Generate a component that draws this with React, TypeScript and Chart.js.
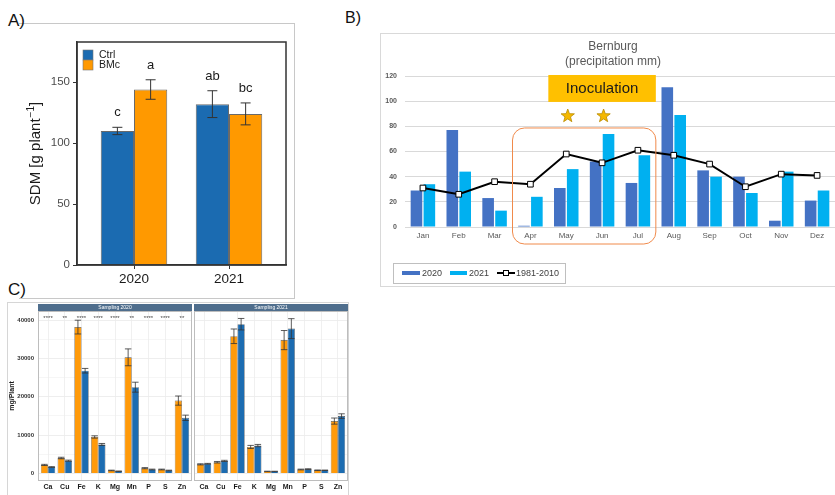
import React, { useEffect, useRef } from 'react';
import { Chart, registerables } from 'chart.js';
Chart.register(...registerables);

const FONT = "'Liberation Sans', Arial, sans-serif";
Chart.defaults.font.family = FONT;

// ---------- Panel A: shoot dry matter ----------
const sdmYears = ['2020', '2021'];
const sdmCtrl = [110, 132];
const sdmCtrlErr = [3, 11];
const sdmBMc = [144, 124];
const sdmBMcErr = [8, 9];
const sdmCtrlLetters = ['c', 'ab'];
const sdmBMcLetters = ['a', 'bc'];
const sdmTicks = [0, 50, 100, 150];

// ---------- Panel B: precipitation ----------
const months = ['Jan', 'Feb', 'Mar', 'Apr', 'May', 'Jun', 'Jul', 'Aug', 'Sep', 'Oct', 'Nov', 'Dez'];
const precip2020 = [29, 77, 23, 1, 31, 52, 35, 111, 45, 40, 5, 21];
const precip2021 = [34, 44, 13, 24, 46, 74, 57, 89, 40, 27, 44, 29];
const precipNormal = [31, 26, 36, 34, 58, 51, 61, 57, 50, 32, 42, 41];
const precipTicks = [0, 20, 40, 60, 80, 100, 120];
const inoculationMonths = ['May', 'Jun'];
const windowMonths = ['Apr', 'Jul'];

// ---------- Panel C: nutrient uptake ----------
const elements = ['Ca', 'Cu', 'Fe', 'K', 'Mg', 'Mn', 'P', 'S', 'Zn'];
const bmc2020 = [2200, 4000, 38200, 9500, 750, 30300, 1350, 1000, 19000];
const bmc2020Err = [150, 200, 1800, 300, 80, 2200, 150, 100, 1200];
const ctrl2020 = [1650, 3300, 26800, 7550, 550, 22500, 1000, 750, 14500];
const ctrl2020Err = [100, 150, 600, 250, 50, 1300, 100, 80, 700];
const sig2020 = ['****', '**', '****', '****', '****', '**', '****', '****', '**'];
const bmc2021 = [2350, 2900, 35800, 6900, 500, 34800, 1000, 800, 13650];
const bmc2021Err = [150, 200, 1900, 400, 60, 2500, 100, 80, 800];
const ctrl2021 = [2500, 3250, 38950, 7250, 500, 37800, 1100, 800, 14950];
const ctrl2021Err = [100, 150, 1500, 300, 50, 2600, 100, 60, 600];
const sig2021 = ['', '', '', '', '', '', '', '', ''];
const mgTicks = [0, 5000, 10000, 15000, 20000, 25000, 30000, 35000, 40000];

// ---------- helpers ----------
function makeErrorBars(capRatio: number, color: string, width: number) {
  return {
    id: 'errorBars',
    afterDatasetsDraw(chart: any) {
      const { ctx } = chart;
      const y = chart.scales.y;
      chart.data.datasets.forEach((ds: any, di: number) => {
        if (!ds.errors) return;
        const meta = chart.getDatasetMeta(di);
        meta.data.forEach((el: any, i: number) => {
          const v = ds.data[i].y;
          const e = ds.errors[i];
          const top = y.getPixelForValue(v + e);
          const bot = y.getPixelForValue(v - e);
          const half = el.width * capRatio;
          ctx.save();
          ctx.strokeStyle = color;
          ctx.lineWidth = width;
          ctx.beginPath();
          ctx.moveTo(el.x, top);
          ctx.lineTo(el.x, bot);
          ctx.moveTo(el.x - half, top);
          ctx.lineTo(el.x + half, top);
          ctx.moveTo(el.x - half, bot);
          ctx.lineTo(el.x + half, bot);
          ctx.stroke();
          ctx.restore();
        });
      });
    },
  };
}

function roundRectPath(ctx: any, x: number, y: number, w: number, h: number, r: number) {
  ctx.beginPath();
  ctx.moveTo(x + r, y);
  ctx.arcTo(x + w, y, x + w, y + h, r);
  ctx.arcTo(x + w, y + h, x, y + h, r);
  ctx.arcTo(x, y + h, x, y, r);
  ctx.arcTo(x, y, x + w, y, r);
  ctx.closePath();
}

function drawStar(ctx: any, cx: number, cy: number, R: number, r: number) {
  ctx.beginPath();
  for (let k = 0; k < 10; k++) {
    const rad = k % 2 === 0 ? R : r;
    const a = -Math.PI / 2 + (k * Math.PI) / 5;
    const px = cx + rad * Math.cos(a);
    const py = cy + rad * Math.sin(a);
    if (k === 0) ctx.moveTo(px, py);
    else ctx.lineTo(px, py);
  }
  ctx.closePath();
  ctx.fillStyle = '#F5B800';
  ctx.fill();
  ctx.strokeStyle = '#B88A00';
  ctx.lineWidth = 0.8;
  ctx.stroke();
}

// ---------- Panel A config ----------
function configA(): any {
  const decorA = {
    id: 'decorA',
    afterDraw(chart: any) {
      const { ctx, chartArea: ca } = chart;
      const y = chart.scales.y;
      ctx.save();
      // frame
      ctx.strokeStyle = '#333';
      ctx.lineWidth = 1.5;
      ctx.strokeRect(ca.left, ca.top, ca.right - ca.left, ca.bottom - ca.top);
      // letters
      ctx.fillStyle = '#1a1a1a';
      ctx.font = `13px ${FONT}`;
      ctx.textAlign = 'center';
      ctx.textBaseline = 'alphabetic';
      chart.data.datasets.forEach((ds: any, di: number) => {
        const meta = chart.getDatasetMeta(di);
        meta.data.forEach((el: any, i: number) => {
          const top = y.getPixelForValue(ds.data[i].y + ds.errors[i]);
          ctx.fillText(ds.letters[i], el.x, top - 11);
        });
      });
      // legend
      const items = [
        { c: '#1B6BB1', t: 'Ctrl' },
        { c: '#FF9900', t: 'BMc' },
      ];
      items.forEach((it, k) => {
        const sy = ca.top + 8 + k * 10;
        ctx.fillStyle = it.c;
        ctx.fillRect(ca.left + 6, sy, 10, 10);
        ctx.strokeStyle = '#777';
        ctx.lineWidth = 0.6;
        ctx.strokeRect(ca.left + 6, sy, 10, 10);
        ctx.fillStyle = '#1a1a1a';
        ctx.font = `10.5px ${FONT}`;
        ctx.textAlign = 'left';
        ctx.textBaseline = 'middle';
        ctx.fillText(it.t, ca.left + 22, sy + 5);
      });
      // y title
      ctx.translate(17, (ca.top + ca.bottom) / 2);
      ctx.rotate(-Math.PI / 2);
      ctx.fillStyle = '#1a1a1a';
      ctx.textBaseline = 'middle';
      ctx.textAlign = 'left';
      const main1 = 'SDM [g plant';
      const sup = '\u22121';
      const main2 = ']';
      ctx.font = `15px ${FONT}`;
      const w1 = ctx.measureText(main1).width;
      const w3 = ctx.measureText(main2).width;
      ctx.font = `10px ${FONT}`;
      const w2 = ctx.measureText(sup).width;
      const start = -(w1 + w2 + w3 + 1) / 2;
      ctx.font = `15px ${FONT}`;
      ctx.fillText(main1, start, 0);
      ctx.font = `10px ${FONT}`;
      ctx.fillText(sup, start + w1 + 1, -5);
      ctx.font = `15px ${FONT}`;
      ctx.fillText(main2, start + w1 + w2 + 1, 0);
      ctx.restore();
    },
  };
  return {
    type: 'bar',
    data: {
      datasets: [
        {
          label: 'Ctrl',
          data: sdmCtrl.map((v, i) => ({ x: i + 1, y: v })),
          backgroundColor: '#1B6BB1',
          borderColor: '#6a6a6a',
          borderWidth: 1,
          borderSkipped: 'bottom',
          errors: sdmCtrlErr,
          letters: sdmCtrlLetters,
        },
        {
          label: 'BMc',
          data: sdmBMc.map((v, i) => ({ x: i + 1, y: v })),
          backgroundColor: '#FF9900',
          borderColor: '#6a6a6a',
          borderWidth: 1,
          borderSkipped: 'bottom',
          errors: sdmBMcErr,
          letters: sdmBMcLetters,
        },
      ],
    },
    options: {
      animation: false,
      responsive: false,
      layout: { padding: { left: 0, top: 19, right: 8, bottom: 0 } },
      datasets: { bar: { categoryPercentage: 0.7, barPercentage: 1 } },
      plugins: { legend: { display: false }, tooltip: { enabled: false } },
      scales: {
        x: {
          type: 'linear',
          min: 0.4,
          max: 2.6,
          offset: false,
          afterBuildTicks: (s: any) => {
            s.ticks = sdmYears.map((_, i) => ({ value: i + 1 }));
          },
          afterFit: (s: any) => {
            s.height = 32;
          },
          ticks: {
            autoSkip: false,
            maxRotation: 0,
            padding: 2,
            color: '#1a1a1a',
            font: { family: FONT, size: 13.5 },
            callback: (v: any) => sdmYears[Math.round(v) - 1] ?? '',
          },
          grid: { offset: false, drawOnChartArea: false, drawTicks: true, tickLength: 4, color: '#333' },
          border: { display: true, color: '#333', width: 1.5 },
        },
        y: {
          min: 0,
          max: 183,
          afterBuildTicks: (s: any) => {
            s.ticks = sdmTicks.map((v) => ({ value: v }));
          },
          afterFit: (s: any) => {
            s.width = 58;
          },
          ticks: { padding: 3, color: '#4d4d4d', font: { family: FONT, size: 11.5 } },
          grid: { drawOnChartArea: false, drawTicks: true, tickLength: 4, color: '#333' },
          border: { display: true, color: '#333', width: 1.5 },
        },
      },
    },
    plugins: [makeErrorBars(0.15, '#333', 1), decorA],
  };
}

// ---------- Panel B config ----------
function configB(): any {
  const decorB = {
    id: 'decorB',
    afterDraw(chart: any) {
      const { ctx } = chart;
      const x = chart.scales.x;
      const y = chart.scales.y;
      const half = (x.getPixelForValue(1) - x.getPixelForValue(0)) / 2;
      ctx.save();
      // title
      ctx.fillStyle = '#595959';
      ctx.font = `12px ${FONT}`;
      ctx.textAlign = 'center';
      ctx.textBaseline = 'middle';
      ctx.fillText('Bernburg', 233, 14);
      ctx.fillText('(precipitation mm)', 233, 29);
      // orange window
      const i0 = months.indexOf(windowMonths[0]);
      const i1 = months.indexOf(windowMonths[1]);
      const l = x.getPixelForValue(i0) - half;
      const r = x.getPixelForValue(i1) + half;
      const t = y.getPixelForValue(78.7);
      const b = y.bottom + 17;
      roundRectPath(ctx, l, t, r - l, b - t, 12);
      ctx.strokeStyle = '#F08A4B';
      ctx.lineWidth = 1;
      ctx.stroke();
      // inoculation banner
      const bl = x.getPixelForValue(months.indexOf('May')) - half;
      const bt = y.getPixelForValue(120.8);
      const bb = y.getPixelForValue(99.4);
      ctx.fillStyle = '#FFC000';
      ctx.fillRect(bl, bt, r - bl, bb - bt);
      ctx.fillStyle = '#1a1a1a';
      ctx.font = `15px ${FONT}`;
      ctx.fillText('Inoculation', (bl + r) / 2, (bt + bb) / 2 + 0.5);
      // stars
      inoculationMonths.forEach((m) => {
        drawStar(ctx, x.getPixelForValue(months.indexOf(m)) + 1.5, y.getPixelForValue(88.2), 7, 2.9);
      });
      // legend
      ctx.strokeStyle = '#bfbfbf';
      ctx.lineWidth = 1;
      ctx.strokeRect(13.5, 230.5, 172, 20);
      ctx.fillStyle = '#4472C4';
      ctx.fillRect(22, 238, 18, 4);
      ctx.fillStyle = '#00B0F0';
      ctx.fillRect(70, 238, 17, 4);
      ctx.strokeStyle = '#000';
      ctx.lineWidth = 2;
      ctx.beginPath();
      ctx.moveTo(117, 240);
      ctx.lineTo(135, 240);
      ctx.stroke();
      ctx.fillStyle = '#fff';
      ctx.fillRect(123.5, 237.5, 5, 5);
      ctx.lineWidth = 1;
      ctx.strokeRect(123.5, 237.5, 5, 5);
      ctx.fillStyle = '#404040';
      ctx.font = `9px ${FONT}`;
      ctx.textAlign = 'left';
      ctx.textBaseline = 'middle';
      ctx.fillText('2020', 42, 240.5);
      ctx.fillText('2021', 89, 240.5);
      ctx.fillText('1981-2010', 136, 240.5);
      ctx.restore();
    },
  };
  return {
    type: 'bar',
    data: {
      labels: months,
      datasets: [
        {
          type: 'line',
          label: '1981-2010',
          data: precipNormal,
          borderColor: '#000',
          borderWidth: 2,
          pointStyle: 'rect',
          pointRadius: 4,
          pointBackgroundColor: '#fff',
          pointBorderColor: '#000',
          pointBorderWidth: 1,
          tension: 0,
          order: 0,
        },
        { label: '2020', data: precip2020, backgroundColor: '#4472C4', order: 1 },
        { label: '2021', data: precip2021, backgroundColor: '#00B0F0', order: 1 },
      ],
    },
    options: {
      animation: false,
      responsive: false,
      layout: { padding: { left: 0, top: 43, right: 3, bottom: 0 } },
      datasets: { bar: { categoryPercentage: 0.72, barPercentage: 0.9 } },
      plugins: { legend: { display: false }, tooltip: { enabled: false } },
      scales: {
        x: {
          afterFit: (s: any) => {
            s.height = 60;
          },
          grid: { display: false, drawTicks: false },
          border: { display: false },
          ticks: { padding: 4, color: '#595959', font: { family: FONT, size: 8 }, autoSkip: false, maxRotation: 0 },
        },
        y: {
          min: 0,
          max: 120,
          afterBuildTicks: (s: any) => {
            s.ticks = precipTicks.map((v) => ({ value: v }));
          },
          afterFit: (s: any) => {
            s.width = 25;
          },
          grid: { color: '#d9d9d9', drawTicks: false, lineWidth: 1 },
          border: { display: false },
          ticks: { padding: 8, color: '#595959', font: { family: FONT, size: 7, weight: 'bold' } },
        },
      },
    },
    plugins: [decorB],
  };
}

// ---------- Panel C config ----------
function configC(
  bmc: number[],
  bmcErr: number[],
  ctrl: number[],
  ctrlErr: number[],
  sig: string[],
  title: string,
  showY: boolean
): any {
  const decorC = {
    id: 'decorC',
    afterDraw(chart: any) {
      const { ctx, chartArea: ca } = chart;
      const x = chart.scales.x;
      ctx.save();
      // panel border
      ctx.strokeStyle = '#bdbdbd';
      ctx.lineWidth = 1;
      ctx.strokeRect(ca.left + 0.5, ca.top + 0.5, ca.right - ca.left - 1, ca.bottom - ca.top - 1);
      // strip
      ctx.fillStyle = '#4F6E8D';
      ctx.fillRect(ca.left, ca.top - 7, ca.right - ca.left, 7);
      ctx.fillStyle = '#fff';
      ctx.font = `5px ${FONT}`;
      ctx.textAlign = 'center';
      ctx.textBaseline = 'middle';
      ctx.fillText(title, (ca.left + ca.right) / 2, ca.top - 3.5);
      // significance
      ctx.fillStyle = '#444';
      ctx.font = `6px ${FONT}`;
      sig.forEach((s, i) => {
        if (s) ctx.fillText(s, x.getPixelForValue(i + 1), ca.top + 7);
      });
      // y title
      if (showY) {
        ctx.translate(5, (ca.top + ca.bottom) / 2);
        ctx.rotate(-Math.PI / 2);
        ctx.fillStyle = '#1a1a1a';
        ctx.font = `bold 7px ${FONT}`;
        ctx.fillText('mg/Plant', 0, 0);
      }
      ctx.restore();
    },
  };
  return {
    type: 'bar',
    data: {
      datasets: [
        {
          label: 'BMc',
          data: bmc.map((v, i) => ({ x: i + 1, y: v })),
          backgroundColor: '#FF9A0A',
          borderColor: '#555',
          borderWidth: 0.6,
          errors: bmcErr,
        },
        {
          label: 'Ctrl',
          data: ctrl.map((v, i) => ({ x: i + 1, y: v })),
          backgroundColor: '#1C6CB1',
          borderColor: '#555',
          borderWidth: 0.6,
          errors: ctrlErr,
        },
      ],
    },
    options: {
      animation: false,
      responsive: false,
      layout: { padding: { left: showY ? 0 : 1, top: 9, right: showY ? 2 : 1, bottom: 0 } },
      datasets: { bar: { categoryPercentage: 0.86, barPercentage: 1 } },
      plugins: { legend: { display: false }, tooltip: { enabled: false } },
      scales: {
        x: {
          type: 'linear',
          min: 0.4,
          max: 9.6,
          offset: false,
          afterBuildTicks: (s: any) => {
            s.ticks = elements.map((_, i) => ({ value: i + 1 }));
          },
          afterFit: (s: any) => {
            s.height = 14;
          },
          ticks: {
            autoSkip: false,
            maxRotation: 0,
            padding: 2,
            color: '#1a1a1a',
            font: { family: FONT, size: 7, weight: 'bold' },
            callback: (v: any) => elements[Math.round(v) - 1] ?? '',
          },
          grid: { offset: false, color: '#ececec', lineWidth: 0.8, drawTicks: false },
          border: { display: false },
        },
        y: {
          min: -2000,
          max: 42400,
          afterBuildTicks: (s: any) => {
            s.ticks = mgTicks.map((v) => ({ value: v }));
          },
          afterFit: (s: any) => {
            s.width = showY ? 31 : 0;
          },
          ticks: {
            display: showY,
            padding: 4,
            color: '#333',
            font: { family: FONT, size: 6, weight: 'bold' },
            callback: (v: any) => (v % 10000 === 0 ? String(v) : ''),
          },
          grid: {
            color: '#ececec',
            lineWidth: (c: any) => (c.tick && c.tick.value % 10000 === 0 ? 0.9 : 0.5),
            drawTicks: false,
          },
          border: { display: false },
        },
      },
    },
    plugins: [makeErrorBars(0.45, '#333', 0.8), decorC],
  };
}

// ---------- component ----------
function ChartBox(props: { make: () => any; left: number; top: number; width: number; height: number }) {
  const ref = useRef<HTMLCanvasElement>(null);
  useEffect(() => {
    const chart = new Chart(ref.current as HTMLCanvasElement, props.make());
    return () => chart.destroy();
  }, []);
  return (
    <canvas
      ref={ref}
      width={props.width}
      height={props.height}
      style={{ position: 'absolute', left: props.left, top: props.top, width: props.width, height: props.height }}
    />
  );
}

const labelStyle = (left: number, top: number, size: number): React.CSSProperties => ({
  position: 'absolute',
  left,
  top,
  fontSize: size,
  lineHeight: 1,
  fontFamily: FONT,
  color: '#111',
});

export default function App() {
  return (
    <div
      style={{
        position: 'fixed',
        left: 0,
        top: 0,
        width: 835,
        height: 495,
        overflow: 'hidden',
        background: '#fff',
        fontFamily: FONT,
      }}
    >
      {/* frames */}
      <div
        style={{
          position: 'absolute',
          left: 19,
          top: 23,
          width: 276,
          height: 276,
          boxSizing: 'border-box',
          borderTop: '1px solid #c8c8c8',
          borderRight: '1px solid #c8c8c8',
          borderBottom: '1px solid #c8c8c8',
        }}
      />
      <div
        style={{
          position: 'absolute',
          left: 380,
          top: 33,
          width: 470,
          height: 254,
          boxSizing: 'border-box',
          border: '1px solid #d9d9d9',
        }}
      />
      <div
        style={{
          position: 'absolute',
          left: 7,
          top: 302,
          width: 342,
          height: 210,
          boxSizing: 'border-box',
          border: '1px solid #d6d6d6',
        }}
      />
      <div style={labelStyle(8, 12, 17)}>A)</div>
      <div style={labelStyle(345, 10, 16)}>B)</div>
      <div style={labelStyle(8, 281, 17)}>C)</div>
      <ChartBox make={configA} left={19} top={23} width={275} height={274} />
      <ChartBox make={configB} left={380} top={33} width={460} height={254} />
      <ChartBox
        make={() => configC(bmc2020, bmc2020Err, ctrl2020, ctrl2020Err, sig2020, 'Sampling 2020', true)}
        left={7}
        top={302}
        width={187}
        height={193}
      />
      <ChartBox
        make={() => configC(bmc2021, bmc2021Err, ctrl2021, ctrl2021Err, sig2021, 'Sampling 2021', false)}
        left={193}
        top={302}
        width={156}
        height={193}
      />
    </div>
  );
}
